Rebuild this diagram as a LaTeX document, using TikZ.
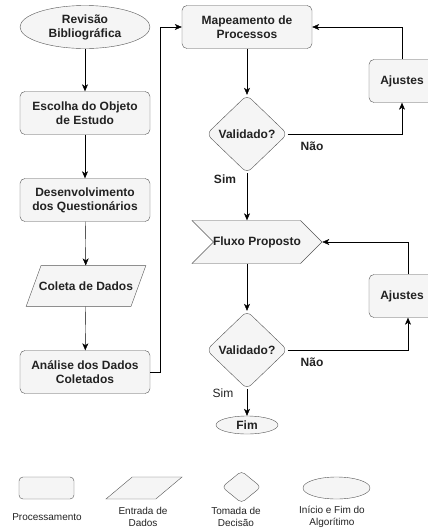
\documentclass[tikz,border=0pt]{standalone}
\usepackage{fontspec}
\setmainfont{Liberation Sans}
\usepackage{xcolor}
\usetikzlibrary{arrows.meta,positioning,calc,shapes.geometric,shapes.symbols}
\definecolor{FlowFill}{HTML}{F5F5F5}
\definecolor{FlowLine}{HTML}{555555}
\definecolor{FlowText}{HTML}{222222}

\begin{document}
\begin{tikzpicture}[x=1pt,y=-1pt,
        base/.style={draw=FlowLine, fill=FlowFill, text=FlowText, font=\fontsize{12}{14}\selectfont\bfseries, align=center, inner sep=1pt},
        proc/.style={base, rectangle, rounded corners=5pt, minimum width=130pt, minimum height=43pt},
        term/.style={base, ellipse, minimum width=130pt, minimum height=43pt, inner sep=0pt},
        dec/.style={base, diamond, rounded corners=6pt, minimum width=81pt, minimum height=78pt, inner sep=0pt},
        data/.style={base, trapezium, trapezium left angle=70, trapezium right angle=110, inner xsep=0pt, inner ysep=16pt},
        flow/.style={-{Stealth[length=7pt,width=6pt,inset=2pt]}, thin, draw=black},
        lbl/.style={font=\fontsize{12}{14}\selectfont\bfseries, text=FlowText, inner sep=0pt},
        leg/.style={font=\fontsize{10}{12.5}\selectfont, text=FlowText, align=center, inner sep=0pt}
      ]
        \useasboundingbox (0,0) rectangle (428,528);
        % coluna da esquerda
        \node[term] (rev) at (85,27) {Revisão\\Bibliográfica};
        \node[proc] (esc) at (85,113) {Escolha do Objeto\\de Estudo};
        \node[proc] (des) at (85,200) {Desenvolvimento\\dos Questionários};
        \node[data] (col) at (86,286) {\makebox[90pt]{Coleta de Dados}};
        \node[proc] (ana) at (85,372) {Análise dos Dados\\Coletados};
        \foreach \a/\b in {rev/esc,esc/des,des/col,col/ana} {\draw[flow] (\a) -- (\b);}
        % coluna da direita
        \node[proc] (map) at (247,27) {Mapeamento de\\Processos};
        \node[dec] (val1) at (247,134) {Validado?};
        \node[proc, minimum width=66pt] (aj1) at (402,81) {Ajustes};
        \node[base, signal, signal from=west, signal to=east, signal pointer angle=90, minimum width=130pt, minimum height=43pt, inner xsep=-8pt] (flx) at (257,242) {Fluxo Proposto};
        \node[dec] (val2) at (247,350) {Validado?};
        \node[proc, minimum width=66pt] (aj2) at (402,296) {Ajustes};
        \node[term, minimum width=62pt, minimum height=18pt] (fim) at (247,425) {Fim};
        \draw[flow] (ana.east) -- ++(10,0) |- (map.west);
        \draw[flow] (map) -- (val1);
        \draw[flow] (val1.east) -| (aj1.south);
        \draw[flow] (aj1.north) |- (map.east);
        \draw[flow] (val1.south) -- (val1.south |- flx.north);
        \draw[flow] (val1.south |- flx.south) -- (val2.north);
        \draw[flow] (val2.east) -| ([xshift=6pt]aj2.south);
        \draw[flow] ([xshift=6pt]aj2.north) |- (flx.east);
        \draw[flow] (val2.south) -- (fim.north);
        \node[lbl] (nao1) at (312,146) {Não};
        \node[lbl] (sim1) at (225,179) {Sim};
        \node[lbl] (nao2) at (312,362) {Não};
        \node[lbl, font=\fontsize{12}{14}\selectfont] (sim2) at (223,393) {Sim};
        % legenda
        \node[base, rectangle, rounded corners=4pt, minimum width=55pt, minimum height=22pt] (lproc) at (46.5,488) {};
        \node[base, trapezium, trapezium left angle=42, trapezium right angle=138, trapezium stretches=true, minimum width=76pt, minimum height=22pt] (ldata) at (144,488) {};
        \node[base, diamond, rounded corners=4pt, minimum width=39pt, minimum height=32pt] (ldec) at (241.5,487) {};
        \node[base, ellipse, minimum width=67pt, minimum height=22pt] (lterm) at (336.5,488) {};
        \node[leg] (tproc) at (47,517) {Processamento};
        \node[leg] (tdata) at (143,517) {Entrada de\\Dados};
        \node[leg] (tdec) at (236,517) {Tomada de\\Decisão};
        \node[leg] (tterm) at (332,517) {Início e Fim do\\Algorítimo};
      \end{tikzpicture}
\end{document}
